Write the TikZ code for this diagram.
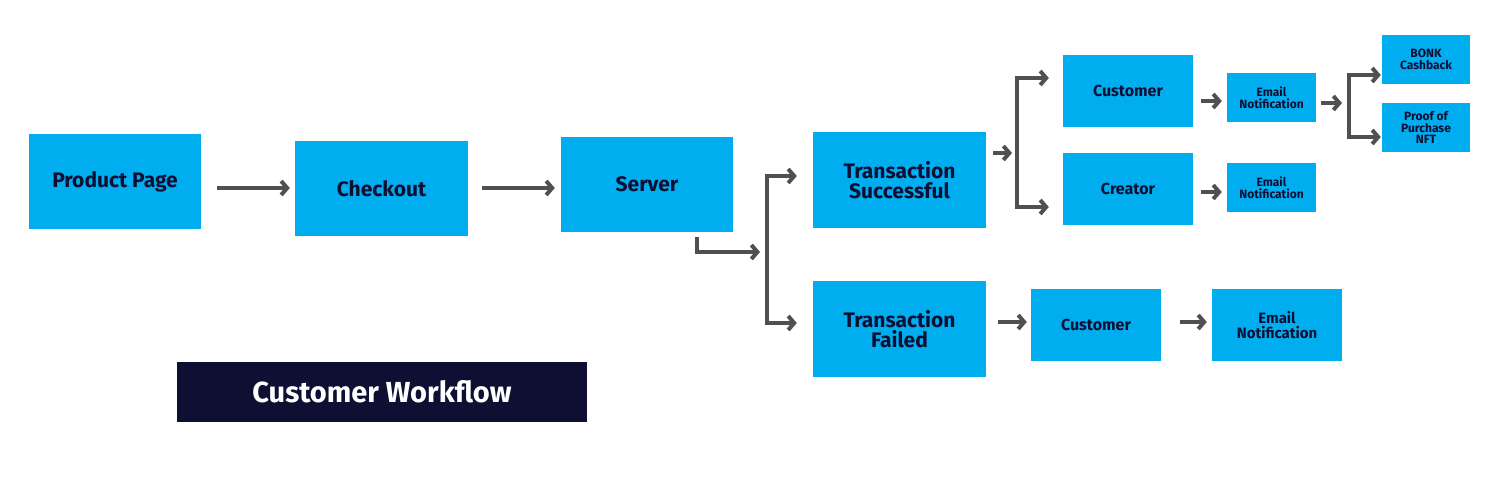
\documentclass[tikz,border=0pt]{standalone}
\usepackage{fontspec}
\setmainfont{Fira Sans}
\usetikzlibrary{arrows.meta,calc}
\definecolor{boxblue}{HTML}{00AEEF}
\definecolor{navy}{HTML}{0F0E33}
\definecolor{arrgray}{HTML}{505050}
\begin{document}
\begin{tikzpicture}[x=1pt,y=-1pt,
  blk/.style={fill=boxblue, draw=none, inner sep=0pt, align=center, text=navy, font=\bfseries},
  bigbox/.style={blk, minimum width=172, minimum height=95, font=\bfseries\fontsize{21}{20}\selectfont},
  midbox/.style={blk, minimum width=130, minimum height=72, font=\bfseries\fontsize{16}{16}\selectfont},
  smallbox/.style={blk, minimum width=89, minimum height=49, font=\bfseries\fontsize{12}{11.5}\selectfont},
  arr/.style={draw=arrgray, line width=4pt, -{Straight Barb[length=6pt,width=14pt]}},
  arrboth/.style={draw=arrgray, line width=4pt, {Straight Barb[length=6pt,width=14pt]}-{Straight Barb[length=6pt,width=14pt]}}
]
\useasboundingbox (0,0) rectangle (1500,500);
\fill[white] (0,0) rectangle (1500,500);

\node[bigbox] (pp) at (115,181.5) {Product Page};
\node[bigbox, minimum width=173] (co) at (381.5,188.5) {Checkout};
\node[bigbox] (sv) at (647,184.5) {Server};
\node[bigbox, minimum width=173, minimum height=96] (ts) at (899.5,180) {Transaction\\Successful};
\node[bigbox, minimum width=173, minimum height=96] (tf) at (899.5,329) {Transaction\\Failed};
\node[midbox] (c1) at (1128,91) {Customer};
\node[midbox] (cr) at (1128,189) {Creator};
\node[smallbox] (e1) at (1271.5,97.5) {Email\\Notification};
\node[smallbox] (e2) at (1271.5,187.5) {Email\\Notification};
\node[smallbox, minimum width=88] (bk) at (1426,59.5) {BONK\\Cashback};
\node[smallbox, minimum width=88] (pf) at (1426,127.5) {Proof of\\Purchase\\NFT};
\node[midbox] (c3) at (1096,325) {Customer};
\node[midbox, font=\bfseries\fontsize{15}{15}\selectfont] (e3) at (1277,325) {Email\\Notification};
\node[fill=navy, minimum width=410, minimum height=60, inner sep=0pt, text=white,
      font=\bfseries\fontsize{29}{29}\selectfont] (title) at (382,392) {Customer Workflow};

% junction coordinates
\coordinate (j1) at (767,252);
\coordinate (j2) at (1017,153);
\coordinate (j3) at (1349,103);

% straight arrows
\draw[arr] ([xshift=16]pp.east |- 0,188) -- ([xshift=-5]co.west |- 0,188);
\draw[arr] ([xshift=14]co.east |- 0,188) -- ([xshift=-6]sv.west |- 0,188);
\draw[arr] ([xshift=12]tf.east |- 0,322) -- ([xshift=-4]c3.west |- 0,322);
\draw[arr] ([xshift=19]c3.east |- 0,322) -- ([xshift=-5]e3.west |- 0,322);
\draw[arr] ([xshift=8]c1.east |- 0,101) -- ([xshift=-5]e1.west |- 0,101);
\draw[arr] ([xshift=8]cr.east |- 0,192) -- ([xshift=-5]e2.west |- 0,192);

% server to split
\draw[arr] ([xshift=50,yshift=-5]sv.south) |- ([xshift=-7]j1);
% split 1
\draw[arrboth] ([xshift=-16]ts.west |- 0,176) -| (j1) |- ([xshift=-16]tf.west |- 0,323);
% split 2
\draw[arr] ([xshift=7]ts.east |- j2) -- ([xshift=-5]j2);
\draw[arrboth] ([xshift=-14]c1.west |- 0,78) -| (j2) |- ([xshift=-14]cr.west |- 0,207);
% split 3
\draw[arr] ([xshift=5]e1.east |- j3) -- ([xshift=-7]j3);
\draw[arrboth] ([xshift=-1]bk.west |- 0,75) -| (j3) |- ([xshift=-1]pf.west |- 0,137);
\end{tikzpicture}
\end{document}
